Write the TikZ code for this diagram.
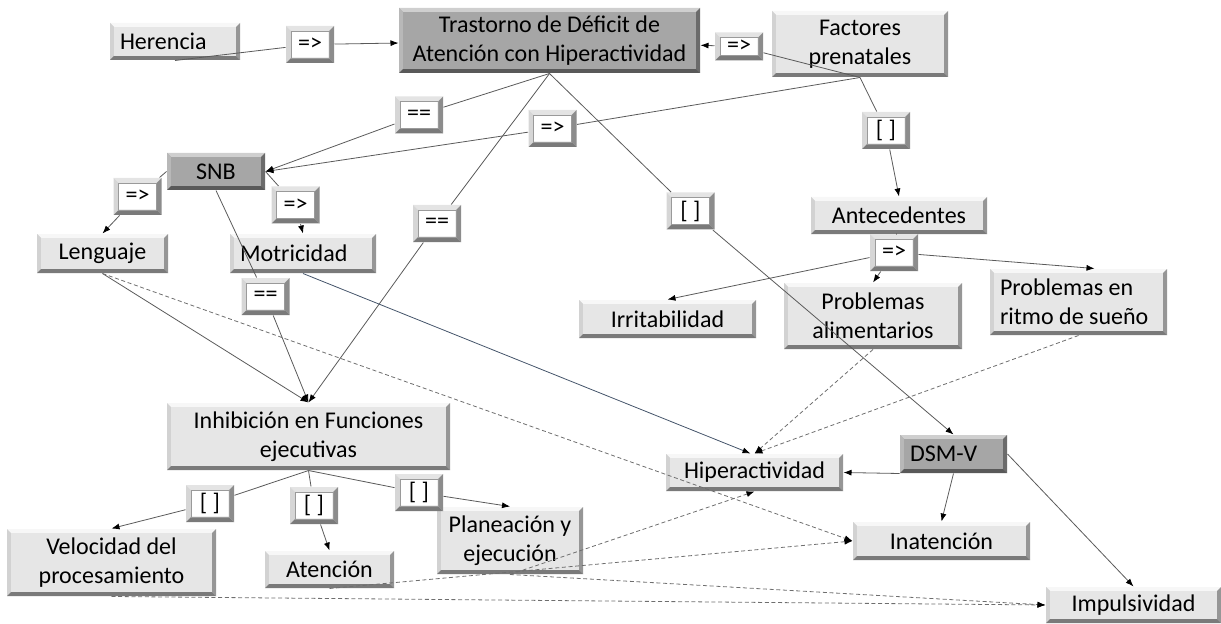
\documentclass[tikz,border=0pt]{standalone}
\usepackage{fontspec}
\setmainfont{Carlito}
\usepackage{tikz}
\usetikzlibrary{arrows.meta}
\tikzset{every picture/.style={line width=0.75pt}}

\definecolor{cajafondo}{HTML}{E6E6E6}
\definecolor{cajaluz}{HTML}{F7F7F7}
\definecolor{cajaizq}{HTML}{D2D2D2}
\definecolor{cajader}{HTML}{969696}
\definecolor{cajasombra}{HTML}{7A7A7A}
\definecolor{oscfondo}{HTML}{A6A6A6}
\definecolor{oscluz}{HTML}{CFCFCF}
\definecolor{oscizq}{HTML}{B8B8B8}
\definecolor{oscder}{HTML}{6B6B6B}
\definecolor{oscsombra}{HTML}{595959}
\definecolor{enlaceluz}{HTML}{E4E4E4}
\definecolor{enlaceizq}{HTML}{D6D6D6}
\definecolor{enlaceder}{HTML}{8C8C8C}
\definecolor{enlacesombra}{HTML}{7A7A7A}
\definecolor{enlacelinea}{HTML}{9A9A9A}
\definecolor{lineagris}{HTML}{5A5A5A}
\definecolor{punteo}{HTML}{6E6E6E}
\definecolor{azul}{HTML}{44546A}

\tikzset{
  % fondo, arriba, izquierda, derecha, abajo, ancho del bisel, linea interior
  bisel/.style n args={7}{fill=#1,
    path picture={
      \fill[#2] (path picture bounding box.north west) -- (path picture bounding box.north east)
        -- ([shift={(-#6,-#6)}]path picture bounding box.north east) -- ([shift={(#6,-#6)}]path picture bounding box.north west) -- cycle;
      \fill[#3] (path picture bounding box.north west) -- ([shift={(#6,-#6)}]path picture bounding box.north west)
        -- ([shift={(#6,#6)}]path picture bounding box.south west) -- (path picture bounding box.south west) -- cycle;
      \fill[#4] (path picture bounding box.north east) -- (path picture bounding box.south east)
        -- ([shift={(-#6,#6)}]path picture bounding box.south east) -- ([shift={(-#6,-#6)}]path picture bounding box.north east) -- cycle;
      \fill[#5] (path picture bounding box.south west) -- ([shift={(#6,#6)}]path picture bounding box.south west)
        -- ([shift={(-#6,#6)}]path picture bounding box.south east) -- (path picture bounding box.south east) -- cycle;
      \draw[#7, line width=0.5pt] ([shift={(#6,-#6)}]path picture bounding box.north west) rectangle ([shift={(-#6,#6)}]path picture bounding box.south east);
    }},
  tam/.style 2 args={minimum width=#1, minimum height=#2},
  izq/.style={align=flush left, text width=#1, inner xsep=7.5pt},
  letra/.style={font=\fontsize{18}{22}\selectfont},
  concepto/.style={bisel={cajafondo}{cajaluz}{cajaizq}{cajader}{cajasombra}{3.2pt}{cajafondo}, inner sep=0pt, align=center, letra},
  conceptoosc/.style={bisel={oscfondo}{oscluz}{oscizq}{oscder}{oscsombra}{3.2pt}{oscfondo}, inner sep=0pt, align=center, letra},
  enlace/.style={bisel={white}{enlaceluz}{enlaceizq}{enlaceder}{enlacesombra}{3.8pt}{enlacelinea}, inner sep=0pt, tam={36pt}{27.75pt}, letra},
  linea/.style={draw=lineagris, line width=0.6pt},
  flecha/.style={linea, -{Latex[length=6pt,width=4.5pt,color=black]}},
  punteada/.style={draw=punteo, line width=0.6pt, dash pattern=on 3pt off 2pt, -{Latex[length=6pt,width=4.5pt,color=black]}}
}

\begin{document}
\begin{tikzpicture}[x=0.75pt,y=-0.75pt]
\useasboundingbox (0,0) rectangle (1221,624);

% conceptos
\node[concepto, tam={97.5pt}{27.75pt}, izq={82.5pt}] (her) at (175,41.5) {Herencia};
\node[conceptoosc, tam={225.75pt}{48.75pt}] (tdah) at (549.5,40.5) {Trastorno de Déficit de\\Atención con Hiperactividad};
\node[concepto, tam={132pt}{49.5pt}] (fac) at (860,44) {Factores\\prenatales};
\node[concepto, tam={132pt}{27.75pt}] (ant) at (899,215.5) {Antecedentes};
\node[conceptoosc, tam={73.5pt}{27.75pt}] (snb) at (216,171.5) {SNB};
\node[concepto, tam={98.25pt}{29.25pt}] (len) at (102.5,253.5) {Lenguaje};
\node[concepto, tam={109.5pt}{29.25pt}, izq={94.5pt}] (mot) at (303,253.5) {Motricidad};
\node[concepto, tam={132.75pt}{28.5pt}] (irr) at (667.5,319) {Irritabilidad};
\node[concepto, tam={133.5pt}{49.5pt}] (pal) at (873,316) {Problemas\\alimentarios};
\node[concepto, tam={132.75pt}{49.5pt}, izq={117.75pt}] (psu) at (1078.5,302) {Problemas en\\ritmo de sueño};
\node[concepto, tam={212.25pt}{50.25pt}] (inh) at (308.5,436.5) {Inhibición en Funciones\\ejecutivas};
\node[conceptoosc, tam={80.25pt}{28.5pt}, izq={65.25pt}] (dsm) at (953.5,454) {DSM-V};
\node[concepto, tam={132.75pt}{27.75pt}] (hip) at (754.5,472.5) {Hiperactividad};
\node[concepto, tam={156.75pt}{50.25pt}] (vel) at (111.5,562.5) {Velocidad del\\procesamiento};
\node[concepto, tam={96.75pt}{27.75pt}] (ate) at (329.5,569.5) {Atención};
\node[concepto, tam={109.5pt}{50.25pt}] (pla) at (510,540.5) {Planeación y\\ejecución};
\node[concepto, tam={132.75pt}{28.5pt}] (ina) at (941.5,541) {Inatención};
\node[concepto, tam={131.25pt}{27pt}] (imp) at (1133.5,605) {Impulsividad};

% enlaces
\node[enlace] (e1) at (310,44.5) {=>};
\node[enlace, minimum height=21pt] (e2) at (739,46.5) {=>};
\node[enlace] (e3) at (886,130.5) {[ ]};
\node[enlace] (e4) at (419,115) {==};
\node[enlace] (e5) at (552.5,128.5) {=>};
\node[enlace] (e6) at (137.5,196.5) {=>};
\node[enlace] (e7) at (295.5,205) {=>};
\node[enlace] (e8) at (437,223.5) {==};
\node[enlace] (e9) at (690.5,211) {[ ]};
\node[enlace] (e10) at (265.5,296.5) {==};
\node[enlace] (e11) at (894,252.5) {=>};
\node[enlace] (e12) at (210,503.5) {[ ]};
\node[enlace] (e13) at (314,505.5) {[ ]};
\node[enlace] (e14) at (419,492.5) {[ ]};

% conectores
\draw[linea] (her.south) -- (e1);
\draw[flecha] (e1) -- (tdah);
\draw[linea] (fac.south) -- (e2);
\draw[flecha] (e2) -- (tdah);
\draw[linea] (tdah.south) -- (e4);
\draw[flecha] (e4) -- (snb.east);
\draw[linea] (fac.south) -- (e5);
\draw[flecha] (e5) -- (snb.east);
\draw[linea] (fac.south) -- (e3);
\draw[flecha] (e3) -- (ant.north);
\draw[linea] (tdah.south) -- (e8);
\draw[flecha] (e8) -- (inh.north);
\draw[linea] (tdah.south) -- (e9);
\draw[flecha] (e9) -- (dsm.north);
\draw[linea] (snb.west) -- (e6);
\draw[flecha] (e6) -- (len.north);
\draw[linea] (snb.east) -- (e7);
\draw[flecha] (e7) -- (mot.north);
\draw[linea] (snb.south) -- (e10);
\draw[flecha] (e10) -- (inh.north);
\draw[flecha] (len.south) -- (inh.north);
\draw[flecha, draw=azul] (mot.south) -- ([xshift=-3pt]hip.north);
\draw[linea] (ant) -- (e11);
\draw[flecha] (e11) -- (irr.north);
\draw[flecha] (e11) -- (pal.north);
\draw[flecha] (e11) -- ([xshift=12pt]psu.north);
\draw[flecha] (dsm.south west) -- (hip.east);
\draw[flecha] (dsm.south) -- (ina.north);
\draw[flecha] (dsm.east) -- (imp.north);
\draw[linea] (inh.south) -- (e12);
\draw[flecha] (e12) -- (vel.north);
\draw[linea] (inh.south) -- (e13);
\draw[flecha] (e13) -- (ate.north);
\draw[linea] (inh.south) -- (e14);
\draw[flecha] (e14) -- (pla.north);

% lineas punteadas
\draw[punteada] (len.south) -- (ina.west);
\draw[punteada] (pal.south) -- (hip.north);
\draw[punteada] (psu.south) -- (hip.north);
\draw[punteada] (pla.south) -- (hip.south);
\draw[punteada] (ate.south) -- (ina.west);
\draw[punteada] (pla.south) -- (imp.west);
\draw[punteada] (vel.south) -- (imp.west);

\end{tikzpicture}
\end{document}
